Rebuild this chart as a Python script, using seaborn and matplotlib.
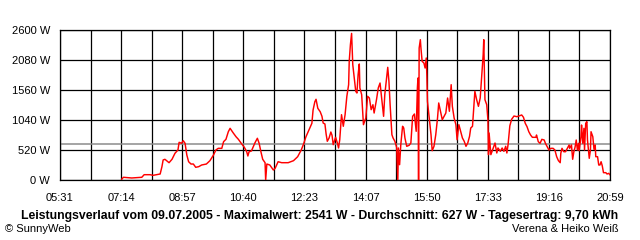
import matplotlib
matplotlib.use("Agg")
import matplotlib.pyplot as plt
import numpy as np
import pandas as pd
import seaborn as sns

# ---- data (minute of day, watts) ----
minute_of_day = [
    435, 438, 452, 469, 473, 483, 488, 500, 503, 505,
    508, 515, 520, 525, 530, 532, 536, 539, 542, 545,
    548, 552, 556, 560, 565, 570, 578, 584, 590, 594,
    598, 604, 607, 611, 615, 618, 621, 623, 628, 632,
    638, 642, 646, 648, 650, 654, 660, 664, 667, 670,
    673, 677, 678, 680, 685, 691, 694, 699, 705, 716,
    725, 732, 738, 742, 746, 751, 756, 758, 761, 763,
    766, 770, 773, 775, 778, 780, 782, 785, 788, 790,
    792, 796, 799, 801, 803, 806, 809, 812, 815, 818,
    819, 821, 823, 825, 828, 830, 832, 834, 836, 837,
    840, 843, 847, 850, 853, 856, 859, 861, 865, 868,
    871, 874, 877, 879, 882, 884, 886, 888, 891, 893,
    896, 899, 901, 902, 904, 906, 909, 911, 913, 916,
    920, 923, 926, 929, 932, 934, 935, 936, 937, 939,
    940, 942, 945, 947, 949, 950, 951, 954, 957, 959,
    962, 965, 968, 970, 973, 976, 979, 982, 985, 988,
    991, 993, 996, 999, 1001, 1004, 1007, 1010, 1013, 1016,
    1019, 1022, 1024, 1027, 1029, 1031, 1034, 1037, 1040, 1042,
    1045, 1046, 1048, 1051, 1053, 1054, 1055, 1058, 1061, 1065,
    1068, 1070, 1074, 1077, 1080, 1083, 1085, 1087, 1090, 1093,
    1097, 1102, 1105, 1110, 1113, 1116, 1119, 1122, 1125, 1128,
    1134, 1135, 1138, 1141, 1144, 1148, 1150, 1153, 1156, 1159,
    1163, 1166, 1169, 1172, 1175, 1176, 1178, 1181, 1184, 1187,
    1190, 1191, 1194, 1196, 1198, 1200, 1202, 1204, 1206, 1207,
    1210, 1211, 1213, 1215, 1216, 1218, 1220, 1221, 1224, 1226,
    1227, 1230, 1232, 1234, 1235, 1238, 1240, 1242, 1244, 1246,
    1248, 1252, 1254, 1257, 1259,
]
power_w = [
    12, 47, 35, 47, 92, 92, 81, 104, 231, 347,
    359, 300, 359, 463, 520, 653, 636, 681, 636, 433,
    317, 277, 277, 220, 231, 260, 277, 335, 433, 520,
    549, 549, 664, 705, 837, 896, 849, 820, 750, 705,
    619, 567, 490, 416, 490, 503, 646, 723, 636, 490,
    359, 300, 0, 277, 260, 173, 203, 317, 300, 300,
    335, 404, 520, 624, 750, 867, 983, 1213, 1357, 1399,
    1243, 1184, 1104, 988, 971, 797, 671, 728, 832, 775,
    612, 740, 641, 555, 698, 1132, 931, 1132, 1451, 1652,
    2057, 2345, 2541, 1998, 1711, 1537, 1508, 1825, 2011, 1595,
    1479, 959, 1075, 1451, 1421, 1219, 1305, 1161, 1392, 1595,
    1681, 1392, 1104, 1479, 1768, 1953, 1711, 1305, 785, 728,
    671, 567, 5, 555, 265, 612, 931, 901, 728, 584,
    601, 641, 1104, 1144, 844, 1595, 1768, 0, 2288, 2432,
    2288, 2057, 2028, 1941, 2115, 1797, 1364, 1075, 785, 508,
    584, 785, 1075, 1335, 1191, 1045, 1104, 1161, 1421, 1191,
    1652, 1277, 1075, 959, 698, 959, 844, 728, 671, 584,
    641, 757, 901, 931, 1248, 1537, 1392, 1277, 1421, 1711,
    2172, 2432, 1392, 1305, 1045, 439, 815, 439, 525, 641,
    468, 555, 497, 555, 497, 584, 468, 612, 940, 1052,
    1109, 1097, 1109, 1127, 1087, 983, 924, 837, 780, 740,
    740, 780, 664, 636, 705, 693, 636, 577, 520, 549,
    549, 520, 404, 335, 300, 463, 549, 490, 490, 549,
    607, 549, 607, 359, 490, 567, 693, 520, 636, 508,
    750, 953, 636, 896, 520, 983, 1011, 693, 376, 520,
    837, 750, 532, 607, 404, 404, 260, 260, 317, 243,
    127, 127, 104, 116, 87,
]
average_w = 627
y_ticks = [0, 520, 1040, 1560, 2080, 2600]
x_tick_labels = ["05:31", "07:14", "08:57", "10:40", "12:23",
                 "14:07", "15:50", "17:33", "19:16", "20:59"]
title_text = ("Leistungsverlauf vom 09.07.2005 - Maximalwert: 2541 W - "
              "Durchschnitt: 627 W - Tagesertrag: 9,70 kWh")
left_credit = "© SunnyWeb"
right_credit = "Verena & Heiko Weiß"

assert len(minute_of_day) == len(power_w)

sns.set_style("white")
plt.rcParams["font.family"] = ["Liberation Sans", "DejaVu Sans"]

df = pd.DataFrame({"t": minute_of_day, "w": power_w})

fig = plt.figure(figsize=(6.4, 2.4), dpi=100)
ax = fig.add_axes([60 / 640, 1 - 180 / 240, 550 / 640, 150 / 240])

def to_min(s):
    h, m = s.split(":")
    return int(h) * 60 + int(m)

x0, x1 = to_min(x_tick_labels[0]), to_min(x_tick_labels[-1])
all_ticks = np.linspace(x0, x1, 2 * (len(x_tick_labels) - 1) + 1)
labels = []
for i in range(len(all_ticks)):
    labels.append(x_tick_labels[i // 2] if i % 2 == 0 else "")

ax.set_xlim(x0, x1)
ax.set_ylim(0, 2600)
ax.set_xticks(all_ticks)
ax.set_xticklabels(labels)
ax.set_yticks(y_ticks)
ax.set_yticklabels([f"{v} W" for v in y_ticks])

ax.grid(True, color="black", linewidth=0.9)
ax.set_axisbelow(True)
ax.axhline(average_w, color="#8c8c8c", linewidth=1.1, zorder=1.5)

sns.lineplot(data=df, x="t", y="w", color="#ff0000", linewidth=1.05,
             estimator=None, sort=False, ax=ax, zorder=3)

ax.set_xlabel("")
ax.set_ylabel("")
for sp in ax.spines.values():
    sp.set_color("black")
    sp.set_linewidth(0.9)

ax.tick_params(axis="both", which="major", direction="out", length=4.2,
               width=0.9, color="black", labelsize=8, labelcolor="black")
ax.tick_params(axis="x", pad=5)
ax.tick_params(axis="y", pad=3)

fig.text(0.5, 1 - 216 / 240, title_text, ha="center", va="center",
         fontsize=8.8, fontweight="bold", color="black")
fig.text(5 / 640, 1 - 229 / 240, left_credit, ha="left", va="center",
         fontsize=8, color="black")
fig.text(619 / 640, 1 - 229 / 240, right_credit, ha="right", va="center",
         fontsize=8, color="black")

fig.savefig("out.png", dpi=100, facecolor="white")
